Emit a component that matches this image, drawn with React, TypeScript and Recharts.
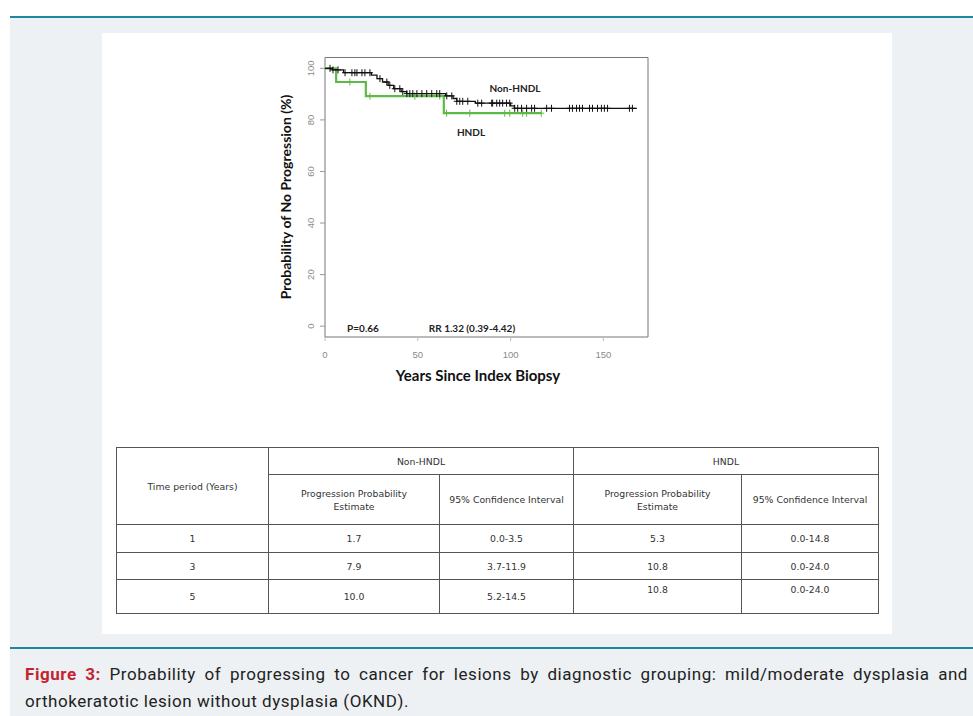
import React from 'react';
import { ComposedChart, Line, Scatter, XAxis, YAxis, ReferenceArea } from 'recharts';

// Kaplan-Meier style curves, time in months (axis label says years, as in the source)
const NON_T = [0, 4, 10, 25, 28, 31, 34, 37, 41, 44, 65, 69, 71, 81, 100, 102, 168];
const NON_S = [100, 99.4, 98.3, 97.4, 96.0, 94.7, 93.4, 92.1, 91.0, 90.2, 89.3, 88.3, 87.2, 86.5, 85.4, 84.5, 84.5];

const HNDL_T = [0, 6, 22, 64, 116.5];
const HNDL_S = [100, 94.7, 89.2, 82.6, 82.6];

// censoring marks
const NON_CENSOR = [
  2.7, 4.3, 7, 10.8, 14.5, 16.1, 17.2, 19.9, 21.5, 24.2, 29.6, 33.3, 34.9, 37.6, 40.3, 41.9,
  44.1, 45.7, 47.3, 49.5, 52.2, 54.8, 57.5, 60.2, 61.8, 65.6, 68.3, 71, 72.6, 74.2, 76.9,
  82.3, 84.4, 89.8, 90.3, 92.5, 94.1, 95.7, 97.8, 99.5, 102.2, 103.8, 105.9, 108.6, 111.3,
  112.9, 119.4, 122, 131.7, 133.3, 135.5, 137.1, 138.7, 142.5, 144.1, 146.8, 148.9, 150.5,
  152.2, 164, 165.6,
];
const HNDL_CENSOR = [13.4, 24.2, 48.4, 61.8, 65.5, 78, 96.8, 99.5, 106.5, 108.6, 116.5];

const X_TICKS = [0, 50, 100, 150];
const Y_TICKS = [0, 20, 40, 60, 80, 100];

// table
const PERIODS = ['1', '3', '5'];
const NON_EST = ['1.7', '7.9', '10.0'];
const NON_CI = ['0.0-3.5', '3.7-11.9', '5.2-14.5'];
const HNDL_EST = ['5.3', '10.8', '10.8'];
const HNDL_CI = ['0.0-14.8', '0.0-24.0', '0.0-24.0'];

const stepAt = (ts: number[], ss: number[], t: number) => {
  let v = ss[0];
  for (let i = 0; i < ts.length; i++) if (ts[i] <= t) v = ss[i];
  return v;
};

const nonData = NON_T.map((t, i) => ({ t, s: NON_S[i] }));
const hndlData = HNDL_T.map((t, i) => ({ t, s: HNDL_S[i] }));
const nonCensor = NON_CENSOR.map(t => ({ t, s: stepAt(NON_T, NON_S, t) }));
const hndlCensor = HNDL_CENSOR.map(t => ({ t, s: stepAt(HNDL_T, HNDL_S, t) }));

const GREEN = '#5cbb45';
const TICK_FONT = '"Liberation Sans", Arial, sans-serif';
const TITLE_FONT = 'Lato, "Open Sans", sans-serif';

const plus = (color: string) => (p: any) => (
  <path d={`M${p.cx - 3},${p.cy}h6M${p.cx},${p.cy - 3.5}v7`} stroke={color} strokeWidth={1} fill="none" />
);

const YTick = (p: any) => (
  <text x={p.x} y={p.y} transform={`rotate(-90 ${p.x} ${p.y})`} textAnchor="middle" dominantBaseline="central"
    fontSize={9.5} fill="#8a8a8a" fontFamily={TICK_FONT}>{p.payload.value}</text>
);
const XTick = (p: any) => (
  <text x={p.x} y={p.y} textAnchor="middle" dominantBaseline="central"
    fontSize={9.5} fill="#8a8a8a" fontFamily={TICK_FONT}>{p.payload.value}</text>
);

const note: React.CSSProperties = {
  position: 'absolute', transform: 'translate(-50%, -50%)', fontFamily: TITLE_FONT,
  fontWeight: 700, fontSize: 10, color: '#222', whiteSpace: 'nowrap',
};

const cell: React.CSSProperties = {
  border: '1px solid #555', textAlign: 'center', verticalAlign: 'middle', padding: 0,
  fontFamily: '"DejaVu Sans", Verdana, sans-serif', fontSize: 9.3, color: '#333', lineHeight: '13px',
};

const caption: React.CSSProperties = {
  fontFamily: 'Roboto, sans-serif', fontSize: 17, letterSpacing: 0.55, lineHeight: '27px',
  color: '#222', whiteSpace: 'nowrap',
};

export default function App() {
  return (
    <div style={{ position: 'relative', width: 973, height: 716, background: '#fff', overflow: 'hidden' }}>
      <style>{'body{margin:0}'}</style>
      <div style={{ position: 'absolute', left: 10, top: 18, width: 963, height: 698, background: '#edf1f4' }} />
      <div style={{ position: 'absolute', left: 10, top: 16, width: 963, height: 2, background: '#1c88a0' }} />
      <div style={{ position: 'absolute', left: 102, top: 33, width: 790, height: 601, background: '#fff' }} />

      <div style={{ position: 'absolute', left: 270, top: 40 }}>
        <ComposedChart width={400} height={360} margin={{ top: 17.5, right: 22, bottom: 0, left: 0 }}>
          <XAxis type="number" dataKey="t" domain={[0, 174]} ticks={X_TICKS} allowDataOverflow
            axisLine={false} tickSize={4} tickMargin={13} tickLine={{ stroke: '#bbb' }} tick={<XTick />} height={63}
            label={{ content: () => (
              <text x={208} y={335} textAnchor="middle" dominantBaseline="central" fontFamily={TITLE_FONT}
                fontWeight={700} fontSize={15} fill="#111">Years Since Index Biopsy</text>
            ) }} />
          <YAxis type="number" dataKey="s" domain={[-4.2, 104.2]} ticks={Y_TICKS} allowDataOverflow
            axisLine={false} width={55} tickSize={5} tickMargin={9} tickLine={{ stroke: '#999' }} tick={<YTick />}
            label={{ content: () => (
              <text x={15} y={157} transform="rotate(-90 15 157)" textAnchor="middle" dominantBaseline="central"
                fontFamily={TITLE_FONT} fontWeight={700} fontSize={14} fill="#111">Probability of No Progression (%)</text>
            ) }} />
          <ReferenceArea x1={0} x2={174} y1={-4.2} y2={104.2} fill="none" stroke="#777" strokeWidth={1} ifOverflow="visible" />
          <Line data={hndlData} dataKey="s" type="stepAfter" stroke={GREEN} strokeWidth={2.2} dot={false} isAnimationActive={false} />
          <Line data={nonData} dataKey="s" type="stepAfter" stroke="#111" strokeWidth={1.3} dot={false} isAnimationActive={false} />
          <Scatter data={hndlCensor} dataKey="s" shape={plus(GREEN)} isAnimationActive={false} />
          <Scatter data={nonCensor} dataKey="s" shape={plus('#111')} isAnimationActive={false} />
        </ComposedChart>
      </div>

      <div style={{ ...note, left: 515, top: 88 }}>Non-HNDL</div>
      <div style={{ ...note, left: 471, top: 132 }}>HNDL</div>
      <div style={{ ...note, left: 363, top: 328 }}>P=0.66</div>
      <div style={{ ...note, left: 472, top: 328 }}>RR 1.32 (0.39-4.42)</div>

      <table style={{ position: 'absolute', left: 116, top: 447, width: 762, borderCollapse: 'collapse', tableLayout: 'fixed', background: '#fff' }}>
        <colgroup>
          <col style={{ width: 152 }} />
          <col style={{ width: 171 }} />
          <col style={{ width: 134 }} />
          <col style={{ width: 168 }} />
          <col style={{ width: 137 }} />
        </colgroup>
        <tbody>
          <tr style={{ height: 27 }}>
            <td style={cell} rowSpan={2}>Time period (Years)</td>
            <td style={cell} colSpan={2}>Non-HNDL</td>
            <td style={cell} colSpan={2}>HNDL</td>
          </tr>
          <tr style={{ height: 50 }}>
            <td style={cell}>Progression Probability<br />Estimate</td>
            <td style={cell}>95% Confidence Interval</td>
            <td style={cell}>Progression Probability<br />Estimate</td>
            <td style={cell}>95% Confidence Interval</td>
          </tr>
          {PERIODS.map((p, i) => {
            const last = i === PERIODS.length - 1;
            const hc: React.CSSProperties = last ? { ...cell, verticalAlign: 'top', paddingTop: 3 } : cell;
            return (
              <tr key={p} style={{ height: last ? 34 : i === 0 ? 28 : 27 }}>
                <td style={cell}>{p}</td>
                <td style={cell}>{NON_EST[i]}</td>
                <td style={cell}>{NON_CI[i]}</td>
                <td style={hc}>{HNDL_EST[i]}</td>
                <td style={hc}>{HNDL_CI[i]}</td>
              </tr>
            );
          })}
        </tbody>
      </table>

      <div style={{ position: 'absolute', left: 10, top: 647, width: 963, height: 2, background: '#1c88a0' }} />
      <div style={{ position: 'absolute', left: 25, top: 661, width: 943 }}>
        <div style={{ ...caption, whiteSpace: 'normal', textAlign: 'justify', textAlignLast: 'justify' }}>
          <span style={{ color: '#c4232f', fontWeight: 700 }}>Figure 3:</span> Probability of progressing to cancer for lesions by diagnostic grouping: mild/moderate dysplasia and
        </div>
        <div style={caption}>orthokeratotic lesion without dysplasia (OKND).</div>
      </div>
    </div>
  );
}
